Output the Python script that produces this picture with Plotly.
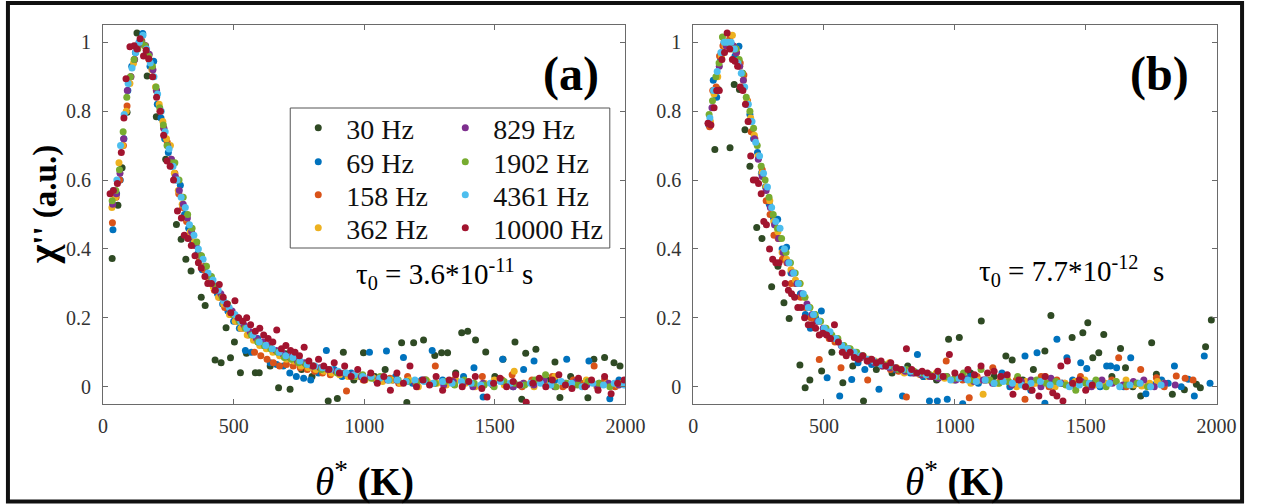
import plotly.graph_objects as go

W, H = 1265, 504
FONT = "Liberation Serif"

LABELS = ["30 Hz", "69 Hz", "158 Hz", "362 Hz", "829 Hz", "1902 Hz", "4361 Hz", "10000 Hz"]
COLORS = ["#2f4a24", "#0072BD", "#D95319", "#EDB120", "#7E2F8E", "#77AC30", "#4DBEEE", "#A2142F"]
X_TICKS = [0, 500, 1000, 1500, 2000]
Y_TICKS = [0, 0.2, 0.4, 0.6, 0.8, 1]
Y_TICKTEXT = ["0", "0.2", "0.4", "0.6", "0.8", "1"]

# ---------------- panel (a) ----------------
A30_X = [35, 57, 73, 92, 130, 169, 204, 240, 281, 299, 317, 337, 376, 391, 429, 452, 471, 488, 503, 526,
         549, 583, 598, 640, 672, 698, 716, 760, 800, 862, 897, 920, 960, 997, 1040, 1080, 1110, 1143, 1163, 1189,
         1227, 1270, 1296, 1319, 1350, 1373, 1396, 1426, 1465, 1500, 1531, 1577, 1603, 1618, 1657, 1700, 1730, 1749, 1790, 1830,
         1856, 1879, 1920, 1956, 1979]
A30_Y = [0.372, 0.527, 0.636, 0.797, 1.027, 0.902, 0.784, 0.66, 0.471, 0.428, 0.37, 0.336, 0.26, 0.236, 0.078, 0.07, 0.171, 0.084, 0.13, 0.041,
         0.097, 0.041, 0.041, 0.06, -0.003, 0.096, -0.007, 0.05, 0.03, -0.041, -0.034, 0.1, 0.02, 0.099, 0.03, 0.05, 0.02, 0.128, -0.046, 0.128,
         0.136, 0.091, 0.099, 0.099, 0.04, 0.157, 0.161, 0.136, 0.101, 0.03, 0.08, 0.13, -0.036, 0.097, 0.109, 0.02, 0.072, -0.031, 0.03, 0.01,
         -0.032, 0.08, 0.085, 0.07, 0.06]

A69_X = [38, 52, 66, 80, 95, 110, 124, 138, 152, 166, 180, 194, 208, 222, 236, 250, 264, 280, 296, 312,
         328, 344, 362, 380, 398, 418, 438, 458, 478, 500, 522, 545, 568, 592, 615, 640, 665, 690, 715, 740,
         768, 795, 825, 855, 885, 915, 950, 985, 1020, 1045, 1085, 1120, 1150, 1185, 1220, 1260, 1300, 1340, 1380, 1420,
         1455, 1490, 1530, 1570, 1610, 1650, 1690, 1730, 1775, 1820, 1860, 1900, 1940, 1975]
A69_Y = [0.456, 0.56, 0.6, 0.72, 0.86, 0.93, 0.97, 1.0, 1.025, 0.97, 0.93, 0.945, 0.82, 0.78, 0.72, 0.68, 0.64, 0.6, 0.585, 0.5,
         0.46, 0.42, 0.385, 0.34, 0.32, 0.3, 0.27, 0.24, 0.22, 0.19, 0.17, 0.105, 0.1, 0.14, 0.12, 0.07, 0.065, 0.06, 0.04, 0.03,
         0.025, 0.02, 0.04, 0.105, 0.05, 0.03, 0.04, 0.03, 0.1, 0.02, 0.104, 0.03, 0.085, 0.01, 0.02, 0.105, 0.02, 0.01, 0.03, 0.055,
         -0.03, 0.01, 0.08, 0.0, 0.05, 0.075, 0.01, 0.02, 0.08, 0.02, 0.075, 0.01, -0.035, 0.02]

A158_X = [36, 50, 64, 78, 92, 106, 120, 134, 148, 162, 176, 190, 204, 218, 232, 246, 260, 275, 290, 305,
          320, 336, 352, 370, 388, 406, 426, 446, 466, 488, 510, 532, 556, 580, 604, 628, 652, 676, 702, 728,
          755, 782, 810, 840, 870, 900, 932, 964, 996, 1030, 1064, 1098, 1132, 1166, 1200, 1236, 1272, 1308, 1344, 1380,
          1416, 1452, 1490, 1528, 1566, 1604, 1642, 1680, 1720, 1760, 1800, 1840, 1880, 1920, 1960, 1995]
A158_Y = [0.476, 0.55, 0.6, 0.7, 0.815, 0.9, 0.95, 0.99, 1.005, 0.99, 0.95, 0.92, 0.86, 0.8, 0.75, 0.71, 0.66, 0.62, 0.56, 0.52,
          0.48, 0.44, 0.41, 0.37, 0.34, 0.31, 0.28, 0.26, 0.23, 0.21, 0.19, 0.17, 0.15, 0.1, 0.09, 0.08, 0.07, 0.06, 0.065, 0.06,
          0.055, 0.05, 0.045, 0.04, 0.035, 0.04, -0.012, 0.03, 0.02, 0.03, 0.02, 0.025, 0.01, 0.03, 0.015, 0.02, 0.06, 0.01, 0.02, 0.015,
          0.005, 0.03, 0.01, 0.02, 0.035, 0.0, 0.02, 0.015, 0.03, 0.0, 0.02, 0.01, 0.06, 0.02, 0.0, 0.01]

A362_X = [34, 47, 61, 75, 89, 103, 117, 131, 145, 159, 173, 187, 201, 215, 229, 243, 258, 273, 288, 303,
          318, 334, 350, 367, 385, 403, 422, 442, 462, 484, 506, 528, 552, 576, 600, 625, 650, 676, 702, 730,
          758, 786, 815, 845, 875, 906, 938, 970, 1003, 1036, 1070, 1104, 1138, 1172, 1207, 1242, 1278, 1314, 1350, 1387,
          1424, 1461, 1498, 1536, 1574, 1612, 1650, 1690, 1730, 1770, 1810, 1850, 1890, 1930, 1970]
A362_Y = [0.52, 0.55, 0.65, 0.7, 0.8, 0.88, 0.94, 0.98, 1.0, 0.99, 0.96, 0.92, 0.87, 0.82, 0.77, 0.72, 0.7, 0.62, 0.57, 0.53,
          0.49, 0.45, 0.42, 0.38, 0.35, 0.32, 0.29, 0.26, 0.24, 0.21, 0.19, 0.17, 0.15, 0.135, 0.12, 0.11, 0.1, 0.09, 0.08, 0.075,
          0.06, 0.055, 0.05, 0.045, 0.04, 0.035, 0.03, 0.03, 0.02, 0.025, 0.015, 0.02, 0.01, 0.02, 0.0, 0.015, 0.01, 0.005, 0.02, 0.01,
          0.0, 0.01, 0.02, 0.005, 0.045, 0.01, 0.0, 0.015, 0.03, 0.005, 0.01, 0.02, 0.0, 0.01, 0.005]

A829_X = [37, 51, 65, 79, 93, 107, 121, 135, 149, 163, 177, 191, 205, 219, 233, 247, 262, 277, 292, 307,
          323, 339, 356, 374, 392, 411, 431, 451, 472, 494, 516, 539, 563, 587, 612, 637, 663, 689, 716, 744,
          772, 801, 831, 861, 892, 924, 956, 989, 1022, 1056, 1090, 1125, 1160, 1195, 1231, 1267, 1304, 1341, 1378, 1416,
          1454, 1492, 1531, 1570, 1609, 1649, 1689, 1729, 1770, 1811, 1852, 1893, 1935, 1975]
A829_Y = [0.53, 0.56, 0.62, 0.72, 0.86, 0.9, 0.95, 0.99, 1.0, 0.99, 0.965, 0.92, 0.86, 0.8, 0.75, 0.7, 0.66, 0.61, 0.57, 0.53,
          0.49, 0.45, 0.41, 0.38, 0.35, 0.32, 0.29, 0.27, 0.24, 0.22, 0.2, 0.18, 0.16, 0.14, 0.13, 0.12, 0.105, 0.095, 0.085, 0.075,
          0.07, 0.06, 0.055, 0.05, 0.045, 0.04, 0.035, 0.03, 0.03, 0.025, 0.02, 0.02, 0.015, 0.01, 0.02, 0.01, 0.005, 0.015, 0.01, 0.0,
          0.01, 0.005, 0.015, 0.0, 0.01, 0.005, 0.02, 0.0, 0.01, 0.015, 0.005, 0.0, 0.01, 0.005]

A1902_X = [35, 49, 63, 77, 91, 105, 119, 133, 147, 161, 175, 189, 203, 217, 231, 245, 260, 275, 291, 307,
           324, 341, 359, 377, 396, 415, 435, 456, 477, 499, 521, 544, 568, 592, 617, 642, 668, 694, 721, 749,
           777, 806, 836, 866, 897, 929, 961, 994, 1027, 1061, 1095, 1130, 1165, 1200, 1236, 1272, 1309, 1346, 1383, 1421,
           1459, 1497, 1536, 1575, 1614, 1654, 1694, 1734, 1775, 1816, 1857, 1898, 1940, 1985]
A1902_Y = [0.54, 0.57, 0.63, 0.74, 0.84, 0.9, 0.95, 0.98, 1.0, 0.99, 0.96, 0.93, 0.87, 0.81, 0.76, 0.7, 0.65, 0.65, 0.6, 0.55,
           0.5, 0.46, 0.42, 0.38, 0.35, 0.32, 0.29, 0.26, 0.24, 0.21, 0.19, 0.17, 0.15, 0.13, 0.12, 0.11, 0.1, 0.085, 0.08, 0.07,
           0.065, 0.06, 0.05, 0.05, 0.04, 0.04, 0.03, 0.035, 0.025, 0.03, 0.02, 0.02, 0.015, 0.01, 0.02, 0.01, 0.015, 0.005, 0.02, 0.01,
           0.005, 0.0, 0.015, 0.01, 0.005, 0.02, 0.035, 0.0, 0.01, 0.005, 0.015, 0.01, 0.0, 0.01]

A4361_X = [39, 53, 67, 81, 96, 111, 125, 139, 153, 167, 181, 195, 209, 223, 238, 253, 268, 283, 299, 315,
           331, 348, 365, 383, 402, 421, 441, 462, 483, 505, 527, 550, 574, 598, 623, 648, 674, 700, 727, 754,
           782, 811, 840, 870, 900, 931, 962, 994, 1026, 1059, 1092, 1126, 1160, 1194, 1229, 1264, 1300, 1336, 1372, 1409,
           1446, 1483, 1521, 1559, 1597, 1636, 1675, 1714, 1754, 1794, 1834, 1875, 1916, 1957, 1995]
A4361_Y = [0.57, 0.6, 0.7, 0.79, 0.88, 0.925, 0.97, 1.0, 1.02, 0.98, 0.94, 0.9, 0.85, 0.8, 0.74, 0.69, 0.64, 0.6, 0.55, 0.52,
           0.47, 0.44, 0.4, 0.37, 0.33, 0.31, 0.28, 0.25, 0.23, 0.21, 0.19, 0.17, 0.15, 0.13, 0.12, 0.11, 0.1, 0.09, 0.085, 0.075,
           0.065, 0.06, 0.055, 0.05, 0.045, 0.04, 0.035, 0.03, 0.03, 0.025, 0.02, 0.02, 0.015, 0.02, 0.015, 0.01, 0.015, 0.01, 0.015, 0.01,
           0.005, 0.01, 0.015, 0.01, 0.005, 0.01, 0.01, 0.005, 0.015, 0.01, 0.0, 0.01, 0.005, 0.01, 0.005]

A10000_X = [27, 40, 55, 70, 80, 88, 103, 119, 130, 142, 155, 165, 175, 190, 205, 220, 232, 245, 257, 270,
            285, 300, 311, 325, 338, 352, 365, 376, 390, 401, 415, 430, 445, 460, 475, 489, 505, 519, 535, 550,
            565, 583, 600, 615, 632, 650, 665, 683, 700, 718, 735, 752, 770, 788, 805, 825, 845, 865, 885, 905,
            925, 950, 975, 1000, 1025, 1050, 1075, 1100, 1125, 1150, 1175, 1200, 1225, 1250, 1275, 1300, 1325, 1350, 1375, 1400,
            1425, 1450, 1470, 1495, 1520, 1545, 1570, 1595, 1620, 1645, 1670, 1695, 1720, 1745, 1770, 1795, 1820, 1845, 1870, 1895,
            1920, 1945, 1970, 1995]
A10000_Y = [0.56, 0.57, 0.59, 0.68, 0.78, 0.894, 0.987, 0.99, 0.98, 1.01, 0.96, 0.977, 0.952, 0.9, 0.84, 0.8, 0.73, 0.655, 0.64, 0.6,
            0.51, 0.49, 0.44, 0.43, 0.41, 0.38, 0.36, 0.345, 0.32, 0.3, 0.3, 0.28, 0.297, 0.26, 0.24, 0.215, 0.25, 0.2, 0.19, 0.2,
            0.18, 0.161, 0.17, 0.15, 0.14, 0.13, 0.165, 0.11, 0.12, 0.105, 0.1, 0.09, 0.115, 0.075, 0.06, 0.08, 0.06, 0.05, 0.07, 0.04,
            0.06, 0.03, 0.05, 0.02, 0.04, 0.01, 0.03, -0.01, 0.04, 0.01, 0.06, 0.0, 0.02, 0.005, 0.03, -0.01, 0.02, 0.035, 0.0, 0.015,
            0.03, -0.005, -0.03, 0.01, 0.025, 0.0, 0.015, 0.005, -0.045, 0.01, 0.025, 0.0, 0.02, 0.035, 0.005, -0.005, 0.025, 0.0, 0.02, -0.01,
            0.03, -0.02, 0.01, 0.02]

# ---------------- panel (b) ----------------
B30_X = [83, 96, 141, 157, 177, 198, 217, 243, 263, 300, 324, 347, 367, 408, 428, 446, 491, 530, 572, 610,
         651, 700, 760, 820, 880, 930, 976, 1017, 1060, 1101, 1150, 1195, 1219, 1260, 1300, 1344, 1367, 1410, 1448, 1489,
         1508, 1527, 1550, 1569, 1600, 1633, 1652, 1680, 1710, 1752, 1770, 1800, 1831, 1877, 1923, 1938, 1958, 1980]
B30_Y = [0.689, 0.863, 0.694, 0.877, 0.863, 0.746, 0.64, 0.462, 0.43, 0.29, 0.35, 0.244, 0.198, 0.063, -0.003, 0.02, 0.046, 0.1, 0.012, 0.06,
         -0.041, 0.05, 0.04, 0.06, 0.03, 0.02, 0.138, 0.143, 0.04, 0.191, 0.03, 0.089, 0.078, 0.02, 0.05, 0.104, 0.207, 0.01, 0.143, 0.157,
         0.186, 0.084, 0.099, 0.152, 0.03, 0.111, 0.055, 0.0, -0.027, 0.128, 0.036, 0.01, -0.022, -0.009, 0.007, -0.003, 0.116, 0.194]

B69_X = [60, 77, 90, 105, 118, 132, 146, 160, 175, 189, 203, 217, 231, 246, 261, 276, 291, 307, 323, 340,
         357, 374, 392, 410, 429, 448, 468, 490, 512, 535, 560, 583, 606, 630, 656, 682, 710, 740, 773, 800,
         830, 857, 880, 903, 933, 971, 1000, 1030, 1060, 1090, 1120, 1150, 1180, 1210, 1240, 1268, 1290, 1314, 1344, 1370,
         1390, 1410, 1428, 1450, 1481, 1504, 1530, 1555, 1580, 1595, 1618, 1645, 1672, 1700, 1730, 1760, 1790, 1815, 1839, 1865,
         1892, 1915, 1953, 1975]
B69_Y = [0.76, 0.89, 0.84, 0.95, 1.0, 1.0, 0.99, 0.96, 0.988, 0.91, 0.82, 0.79, 0.72, 0.68, 0.62, 0.58, 0.53, 0.49, 0.486, 0.4,
         0.405, 0.33, 0.3, 0.27, 0.21, 0.17, 0.2, 0.22, 0.026, 0.14, -0.027, 0.11, 0.021, 0.07, 0.05, 0.065, -0.007, 0.06, 0.05, -0.027,
         0.04, 0.094, 0.03, -0.041, -0.041, -0.036, 0.02, -0.049, 0.03, 0.01, 0.02, 0.01, 0.04, 0.0, 0.02, 0.089, -0.01, 0.099, -0.048, 0.02,
         0.138, 0.01, 0.084, 0.02, 0.07, 0.053, 0.01, 0.0, 0.06, 0.06, 0.055, 0.0, 0.084, 0.01, -0.02, 0.005, 0.02, 0.01, 0.06, 0.0,
         0.022, -0.027, 0.089, 0.01]

B158_X = [63, 75, 88, 101, 114, 127, 140, 153, 166, 180, 194, 208, 222, 236, 250, 264, 279, 294, 309, 325,
          341, 358, 375, 393, 411, 430, 450, 470, 482, 500, 520, 542, 565, 590, 615, 640, 667, 695, 724, 754,
          785, 815, 845, 875, 905, 935, 967, 1000, 1030, 1055, 1085, 1115, 1145, 1175, 1205, 1235, 1268, 1300, 1330, 1360,
          1390, 1420, 1450, 1480, 1510, 1540, 1570, 1600, 1626, 1655, 1685, 1710, 1740, 1770, 1800, 1846, 1880, 1910]
B158_Y = [0.755, 0.86, 0.87, 0.96, 0.99, 1.0, 1.01, 0.99, 0.97, 0.94, 0.905, 0.83, 0.74, 0.72, 0.665, 0.63, 0.54, 0.5, 0.44, 0.43,
          0.37, 0.36, 0.3, 0.3, 0.26, 0.23, 0.2, 0.19, 0.079, 0.16, 0.14, 0.13, 0.055, 0.1, 0.09, 0.085, 0.02, 0.07, 0.06, 0.05,
          0.045, -0.03, 0.04, 0.035, 0.03, 0.03, 0.075, 0.025, 0.02, -0.032, 0.03, 0.02, 0.055, 0.02, 0.015, 0.02, -0.036, 0.01, 0.03, 0.0,
          0.02, 0.01, 0.005, 0.03, 0.0, 0.015, 0.01, 0.02, 0.084, 0.0, 0.01, 0.05, 0.005, 0.026, 0.0, 0.031, 0.025, 0.02]

B362_X = [66, 80, 94, 108, 122, 136, 150, 164, 178, 192, 206, 220, 234, 248, 263, 278, 293, 308, 324, 340,
          357, 374, 391, 409, 427, 446, 465, 485, 506, 527, 549, 572, 595, 619, 644, 669, 695, 722, 750, 778,
          807, 837, 867, 898, 929, 961, 994, 1027, 1061, 1095, 1108, 1130, 1165, 1200, 1236, 1272, 1309, 1346, 1383, 1421,
          1459, 1497, 1536, 1575, 1614, 1654, 1684, 1714, 1744, 1774, 1800]
B362_Y = [0.77, 0.85, 0.9, 0.96, 0.99, 1.0, 1.02, 0.98, 0.93, 0.89, 0.83, 0.78, 0.73, 0.67, 0.62, 0.58, 0.54, 0.48, 0.45, 0.39,
          0.37, 0.34, 0.31, 0.3, 0.26, 0.23, 0.21, 0.19, 0.17, 0.15, 0.135, 0.12, 0.11, 0.1, 0.09, 0.08, 0.075, 0.06, 0.07, 0.055,
          0.04, 0.045, 0.035, 0.03, 0.04, 0.025, 0.02, 0.03, 0.01, 0.02, -0.022, 0.02, 0.01, 0.025, 0.0, 0.015, 0.01, 0.03, 0.0, 0.01,
          0.015, 0.02, 0.005, 0.01, 0.015, 0.02, 0.005, 0.002, 0.01, 0.015, 0.01]

B829_X = [58, 72, 86, 100, 113, 126, 139, 152, 165, 178, 192, 206, 220, 234, 249, 264, 279, 295, 311, 327,
          344, 361, 379, 397, 416, 435, 455, 476, 497, 519, 542, 566, 590, 615, 641, 667, 694, 722, 751, 780,
          810, 841, 872, 904, 937, 970, 1004, 1038, 1073, 1108, 1144, 1180, 1217, 1254, 1291, 1329, 1367, 1405, 1444, 1483,
          1522, 1562, 1602, 1642, 1682, 1722, 1762, 1802, 1842]
B829_Y = [0.765, 0.81, 0.86, 0.93, 0.97, 0.99, 1.0, 0.99, 0.97, 0.93, 0.89, 0.82, 0.77, 0.72, 0.66, 0.61, 0.57, 0.52, 0.47, 0.43,
          0.39, 0.36, 0.33, 0.3, 0.27, 0.24, 0.21, 0.19, 0.17, 0.155, 0.14, 0.12, 0.11, 0.095, 0.085, 0.075, 0.07, 0.06, 0.055, 0.05,
          0.045, 0.04, 0.035, 0.03, 0.025, 0.03, 0.02, 0.025, 0.015, 0.02, 0.01, 0.03, 0.005, 0.015, 0.02, 0.0, 0.025, 0.01, 0.005, 0.015,
          0.0, 0.02, 0.01, 0.005, 0.015, 0.02, 0.0, 0.01, 0.005]

B1902_X = [61, 74, 87, 99, 112, 124, 137, 150, 163, 176, 189, 203, 217, 231, 245, 260, 275, 290, 306, 322,
           338, 355, 372, 390, 408, 427, 446, 466, 487, 508, 530, 553, 576, 600, 625, 650, 676, 702, 729, 757,
           785, 814, 844, 874, 905, 936, 968, 1000, 1033, 1066, 1100, 1134, 1169, 1204, 1240, 1276, 1312, 1349, 1386, 1424,
           1462, 1500, 1539, 1578, 1617, 1656, 1696, 1736]
B1902_Y = [0.79, 0.83, 0.9, 0.94, 1.015, 1.0, 1.0, 0.98, 0.98, 0.95, 0.91, 0.84, 0.8, 0.75, 0.7, 0.64, 0.6, 0.55, 0.5, 0.46,
           0.43, 0.39, 0.36, 0.33, 0.3, 0.26, 0.23, 0.21, 0.19, 0.17, 0.15, 0.14, 0.12, 0.11, 0.1, 0.09, 0.08, 0.07, 0.065, 0.06,
           0.05, 0.05, 0.045, 0.04, 0.035, 0.03, 0.03, 0.025, 0.04, 0.02, 0.05, 0.02, 0.01, 0.015, 0.03, 0.0, 0.02, 0.01, 0.015, 0.005,
           -0.01, 0.01, 0.02, 0.0, 0.015, 0.005, 0.01, 0.0]

B4361_X = [64, 78, 92, 106, 119, 132, 145, 158, 171, 184, 197, 211, 225, 239, 254, 269, 284, 300, 316, 332,
           349, 366, 384, 402, 421, 440, 460, 480, 501, 523, 545, 568, 591, 615, 640, 665, 691, 718, 745, 773,
           801, 830, 860, 890, 921, 952, 984, 1016, 1049, 1082, 1116, 1150, 1185, 1220, 1255, 1291, 1327, 1364, 1401, 1438,
           1476, 1514, 1552, 1591, 1630, 1669, 1708, 1748, 1788]
B4361_Y = [0.78, 0.86, 0.915, 0.97, 1.0, 1.0, 1.0, 0.98, 0.94, 0.91, 0.87, 0.82, 0.77, 0.71, 0.67, 0.62, 0.58, 0.52, 0.48, 0.46,
           0.4, 0.36, 0.33, 0.3, 0.27, 0.23, 0.21, 0.19, 0.17, 0.16, 0.14, 0.12, 0.11, 0.1, 0.09, 0.08, 0.075, 0.065, 0.06, 0.055,
           0.05, 0.045, 0.04, 0.035, 0.03, 0.03, 0.02, 0.025, 0.02, 0.015, 0.02, 0.01, 0.015, 0.01, 0.005, 0.01, 0.015, 0.005, 0.01, 0.0,
           0.005, 0.01, 0.005, 0.01, 0.0, 0.005, 0.01, 0.0, 0.005]

B10000_X = [57, 68, 80, 90, 100, 110, 120, 130, 140, 150, 160, 170, 180, 190, 200, 210, 220, 230, 240, 250,
            260, 270, 280, 292, 304, 316, 328, 340, 352, 364, 376, 388, 400, 413, 426, 440, 454, 468, 482, 496,
            510, 525, 540, 555, 570, 585, 600, 616, 632, 648, 665, 682, 700, 718, 736, 755, 775, 795, 815, 835,
            855, 875, 895, 915, 935, 955, 979, 1000, 1025, 1050, 1075, 1100, 1125, 1150, 1175, 1200, 1222, 1245, 1270, 1295,
            1321, 1345, 1374, 1390, 1405, 1413, 1430, 1450, 1475, 1500, 1525]
B10000_Y = [0.765, 0.76, 0.81, 0.86, 0.86, 0.95, 0.97, 1.027, 0.98, 0.95, 0.945, 0.93, 0.87, 0.86, 0.82, 0.77, 0.67, 0.6, 0.6, 0.59,
            0.56, 0.48, 0.47, 0.4, 0.37, 0.36, 0.36, 0.33, 0.3, 0.28, 0.27, 0.26, 0.23, 0.23, 0.2, 0.18, 0.18, 0.17, 0.15, 0.155,
            0.15, 0.14, 0.18, 0.13, 0.1, 0.09, 0.1, 0.085, 0.08, 0.09, 0.075, 0.08, 0.07, 0.075, 0.06, 0.07, 0.055, 0.05, 0.11, 0.05,
            0.04, 0.045, 0.04, 0.03, 0.045, 0.03, 0.094, 0.04, 0.03, 0.05, 0.035, 0.06, 0.04, 0.045, 0.03, 0.035, -0.022, 0.02, 0.0, -0.01,
            -0.027, 0.03, -0.017, -0.027, 0.06, -0.041, 0.075, 0.01, 0.02, -0.01, 0.005]

PANEL_A = [(A30_X, A30_Y), (A69_X, A69_Y), (A158_X, A158_Y), (A362_X, A362_Y),
           (A829_X, A829_Y), (A1902_X, A1902_Y), (A4361_X, A4361_Y), (A10000_X, A10000_Y)]
PANEL_B = [(B30_X, B30_Y), (B69_X, B69_Y), (B158_X, B158_Y), (B362_X, B362_Y),
           (B829_X, B829_Y), (B1902_X, B1902_Y), (B4361_X, B4361_Y), (B10000_X, B10000_Y)]


def px_x(p):
    return p / W


def px_y(p):
    return 1 - p / H


def legend_id(i):
    return "legend" if i == 0 else "legend%d" % (i + 1)


fig = go.Figure()
for i, ((xs, ys), lab, col) in enumerate(zip(PANEL_A, LABELS, COLORS)):
    fig.add_trace(go.Scatter(
        x=xs, y=ys, mode="markers", name=lab,
        marker=dict(size=7, color=col, line=dict(width=0)),
        xaxis="x", yaxis="y", legend=legend_id(i)))
for (xs, ys), lab, col in zip(PANEL_B, LABELS, COLORS):
    fig.add_trace(go.Scatter(
        x=xs, y=ys, mode="markers", name=lab, showlegend=False,
        marker=dict(size=7, color=col, line=dict(width=0)),
        xaxis="x2", yaxis="y2"))

AX = dict(showline=True, linecolor="#6a6a6a", linewidth=1, mirror="ticks",
          ticks="inside", ticklen=5, tickcolor="#6a6a6a", showgrid=False, zeroline=False,
          tickfont=dict(family=FONT, size=20, color="#333333"))
XA = dict(AX, range=[0, 2000], tickvals=X_TICKS, ticklabelstandoff=4)
YA = dict(AX, range=[-0.05, 1.05], tickvals=Y_TICKS, ticktext=Y_TICKTEXT, ticklabelstandoff=7)

layout = dict(
    width=W, height=H, margin=dict(l=0, r=0, t=0, b=0),
    paper_bgcolor="white", plot_bgcolor="white", showlegend=True,
    xaxis=dict(XA, domain=[px_x(100), px_x(633)], anchor="y"),
    yaxis=dict(YA, domain=[px_y(404), px_y(25)], anchor="x"),
    xaxis2=dict(XA, domain=[px_x(702), px_x(1236)], anchor="y2"),
    yaxis2=dict(YA, domain=[px_y(404), px_y(25)], anchor="x2"),
)

# two-column legend: one single-entry legend per slot (column-major like the original)
ROW_Y = [128, 162, 195, 228]
COL_X = [291, 441]
for i in range(8):
    col, row = divmod(i, 4)
    layout[legend_id(i)] = dict(
        x=px_x(COL_X[col]), y=px_y(ROW_Y[row]), xanchor="left", yanchor="middle",
        bgcolor="rgba(0,0,0,0)", borderwidth=0, itemwidth=46,
        font=dict(family=FONT, size=28, color="#111111"))
fig.update_layout(**layout)

# legend frame and outer figure border
fig.add_shape(type="rect", xref="paper", yref="paper",
              x0=px_x(291), x1=px_x(617), y0=px_y(248), y1=px_y(108),
              line=dict(color="#555555", width=1), fillcolor="rgba(0,0,0,0)")
fig.add_shape(type="rect", xref="paper", yref="paper",
              x0=px_x(3), x1=px_x(1262), y0=px_y(501.5), y1=px_y(3),
              line=dict(color="#111111", width=4), fillcolor="rgba(0,0,0,0)")

ann = [
    dict(text="<b>(a)</b>", x=px_x(577), y=px_y(74), font=dict(size=48)),
    dict(text="<b>(b)</b>", x=px_x(1178), y=px_y(74), font=dict(size=48)),
    dict(text="τ<sub>0</sub> = 3.6*10<sup>-11</sup> s", x=px_x(448), y=px_y(274), font=dict(size=29)),
    dict(text="τ<sub>0</sub> = 7.7*10<sup>-12</sup> &nbsp;s", x=px_x(1088), y=px_y(271), font=dict(size=29)),
    dict(text="<i>θ</i><sup>*</sup> <b>(K)</b>", x=px_x(367), y=px_y(479), font=dict(size=39)),
    dict(text="<i>θ</i><sup>*</sup> <b>(K)</b>", x=px_x(969), y=px_y(479), font=dict(size=39)),
    dict(text="<b><span style='font-size:40px'>χ</span>'' (a.u.)</b>", x=px_x(38), y=px_y(205),
         font=dict(size=33), textangle=-90),
]
for a in ann:
    f = dict(family=FONT, color="black")
    f.update(a.pop("font"))
    fig.add_annotation(xref="paper", yref="paper", xanchor="center", yanchor="middle",
                       showarrow=False, font=f, **a)

fig.write_html("out.html")
